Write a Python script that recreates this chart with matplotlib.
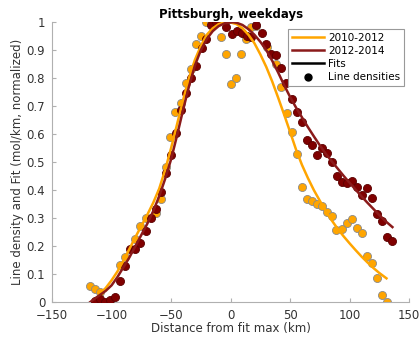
import numpy as np
import matplotlib.pyplot as plt

# line densities, 2010-2012
x_1012 = [-118, -114, -110, -93, -89, -80.4, -75.8, -71.2, -63, -58.8, -54.3, -51.3, -46.8, -42,
          -37.5, -33.6, -29.3, -25.2, -20.7, -16.8, -8.4, -4.2, 0, 4.8, 8.6, 13.3, 16.8, 21,
          30.2, 38.4, 42.6, 47, 51.3, 55.5, 59.7, 63.9, 68.6, 72.8, 77, 80.7, 84.9, 89,
          93.3, 98, 102.3, 106.5, 110.7, 114.9, 119.1, 123.3, 127.5, 131.7]
y_1012 = [0.058, 0.046, 0.037, 0.132, 0.161, 0.224, 0.271, 0.301, 0.319, 0.367, 0.483, 0.59, 0.679, 0.71,
          0.781, 0.833, 0.922, 0.95, 1.0, 1.0, 0.948, 0.886, 0.78, 0.80, 0.886, 0.94, 0.982, 0.986,
          0.91, 0.85, 0.77, 0.674, 0.608, 0.529, 0.412, 0.370, 0.361, 0.352, 0.344, 0.323, 0.308, 0.257,
          0.26, 0.281, 0.298, 0.263, 0.247, 0.165, 0.138, 0.085, 0.027, 0.0]

# line densities, 2012-2014
x_1214 = [-114, -109.8, -105.6, -101.4, -97.2, -93.3, -88.8, -84.6, -80.4, -76.2, -71.4, -67.2, -63,
          -58.8, -54.6, -50.4, -46.2, -42, -37.8, -33.6, -29.4, -24.4, -20.4, -16.8, -12.6, -4.2,
          0.8, 5, 9.2, 13.4, 17.4, 21, 26, 29.4, 34.2, 38.4, 42.6, 46.8, 51.3, 55.7, 59.6,
          63.9, 68, 72.3, 77, 81.2, 85.4, 89.6, 93.8, 98, 102.2, 106.5, 110.7, 114.9, 119,
          123.3, 127.5, 131.7, 135.9]
y_1214 = [0.003, 0.012, 0.0, 0.007, 0.017, 0.075, 0.129, 0.188, 0.188, 0.212, 0.254, 0.299, 0.334,
          0.394, 0.46, 0.525, 0.605, 0.688, 0.748, 0.80, 0.845, 0.906, 0.94, 0.99, 1.0, 0.983,
          0.956, 0.968, 0.96, 0.95, 0.948, 0.99, 0.963, 0.921, 0.888, 0.882, 0.837, 0.781, 0.725, 0.68, 0.643,
          0.579, 0.561, 0.527, 0.549, 0.533, 0.501, 0.451, 0.43, 0.424, 0.433, 0.412, 0.382, 0.406, 0.372,
          0.314, 0.29, 0.233, 0.218]

# fits
fx_1012 = [-110, -105, -100, -95, -90, -85, -80, -75, -70, -65, -60, -55, -50, -45, -40, -35,
           -30, -25, -20, -15, -10, -5, -2, 0, 5, 10, 15, 20, 25, 30, 35, 40, 45, 50, 55, 60,
           65, 70, 75, 80, 85, 90, 95, 100, 105, 110, 115, 120, 125, 131]
fy_1012 = [0.03, 0.05, 0.078, 0.11, 0.148, 0.19, 0.232, 0.272, 0.312, 0.355, 0.405, 0.472, 0.55,
           0.635, 0.72, 0.80, 0.865, 0.915, 0.955, 0.978, 0.993, 0.999, 1.0, 0.999, 0.993, 0.978,
           0.955, 0.925, 0.885, 0.84, 0.788, 0.73, 0.67, 0.608, 0.545, 0.49, 0.443, 0.40, 0.362,
           0.326, 0.292, 0.262, 0.235, 0.21, 0.186, 0.163, 0.142, 0.122, 0.104, 0.085]

fx_1214 = [-118, -115, -110, -105, -100, -95, -90, -85, -80, -75, -70, -65, -60, -55, -50, -45,
           -40, -35, -30, -25, -20, -15, -10, -5, 2, 5, 10, 15, 20, 25, 30, 35, 40, 45, 50, 55,
           60, 65, 70, 75, 80, 85, 90, 95, 100, 105, 110, 115, 120, 125, 130, 136]
fy_1214 = [0.0, 0.01, 0.025, 0.04, 0.06, 0.09, 0.125, 0.16, 0.2, 0.24, 0.28, 0.325, 0.378, 0.44,
           0.51, 0.595, 0.685, 0.77, 0.845, 0.9, 0.94, 0.968, 0.986, 0.996, 1.0, 0.998, 0.99, 0.975,
           0.955, 0.93, 0.9, 0.862, 0.82, 0.775, 0.733, 0.695, 0.66, 0.625, 0.592, 0.56, 0.53, 0.503,
           0.477, 0.451, 0.426, 0.402, 0.378, 0.355, 0.333, 0.311, 0.29, 0.268]

orange = '#ffa500'
maroon = '#800000'

fig = plt.figure(figsize=(4.2, 3.41), dpi=100)
ax = fig.add_axes([0.124, 0.114, 0.850, 0.821])

ax.plot(x_1012, y_1012, 'o', color=orange, markeredgecolor='#8a8a8a', markeredgewidth=0.6,
        markersize=5.8, zorder=2)
ax.plot(x_1214, y_1214, 'o', color=maroon, markeredgecolor='#5a0000', markeredgewidth=0.6,
        markersize=5.8, zorder=3)
ax.plot(fx_1012, fy_1012, color=orange, lw=1.8, zorder=4)
ax.plot(fx_1214, fy_1214, color='#8b1a1a', lw=1.8, zorder=4)

# legend handles
h1, = ax.plot([], [], color=orange, lw=1.8, label='2010-2012')
h2, = ax.plot([], [], color='#8b1a1a', lw=1.8, label='2012-2014')
h3, = ax.plot([], [], color='black', lw=1.8, label='Fits')
h4, = ax.plot([], [], 'o', color='black', markersize=5, label='Line densities')
leg = ax.legend(handles=[h1, h2, h3, h4], loc='upper right', bbox_to_anchor=(0.985, 0.975),
                fontsize=7.5, fancybox=False, edgecolor='#999999', framealpha=1,
                handlelength=3.1, handletextpad=0.35, borderpad=0.35, labelspacing=0.3,
                borderaxespad=0.0)
leg.get_frame().set_linewidth(0.8)

ax.set_xlim(-150, 150)
ax.set_ylim(0, 1)
ax.set_xticks(np.arange(-150, 151, 50))
ax.set_yticks(np.arange(0, 1.01, 0.1))
ax.set_yticklabels(['0', '0.1', '0.2', '0.3', '0.4', '0.5', '0.6', '0.7', '0.8', '0.9', '1'])

for s in ['top', 'right']:
    ax.spines[s].set_visible(False)
for s in ['left', 'bottom']:
    ax.spines[s].set_color('#b0b0b0')
    ax.spines[s].set_linewidth(0.8)
ax.tick_params(direction='in', length=3, color='#b0b0b0', labelsize=8.5, labelcolor='#333333')
ax.tick_params(axis='x', pad=5)
ax.tick_params(axis='y', pad=5)

ax.set_xlabel('Distance from fit max (km)', fontsize=8.5, color='#333333', labelpad=0)
ax.set_ylabel('Line density and Fit (mol/km, normalized)', fontsize=8.5, color='#333333', labelpad=2)
ax.set_title('Pittsburgh, weekdays', fontsize=8.5, fontweight='bold', pad=3)

fig.savefig('out.png', dpi=100)
